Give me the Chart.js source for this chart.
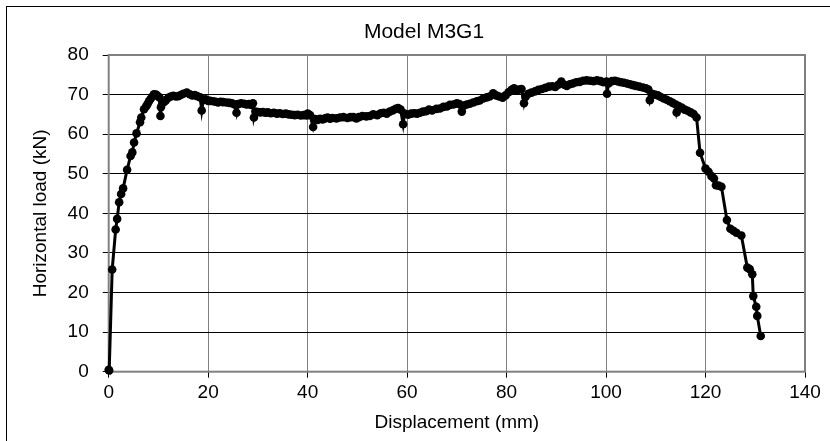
<!DOCTYPE html>
<html>
<head>
<meta charset="utf-8">
<script src="https://cdn.jsdelivr.net/npm/chart.js@4.4.1/dist/chart.umd.min.js"></script>
<style>
html,body{margin:0;padding:0;background:#fff;}
#wrap{width:830px;height:441px;position:relative;}
</style>
</head>
<body>
<div id="wrap"><canvas id="c" width="830" height="441"></canvas></div>
<script>
const chartTitle = "Model M3G1";
const xAxisTitle = "Displacement (mm)";
const yAxisTitle = "Horizontal load (kN)";
const xTickValues = [0, 20, 40, 60, 80, 100, 120, 140];
const yTickValues = [0, 10, 20, 30, 40, 50, 60, 70, 80];

const displacement = [
  0, 0.1, 0.7, 1.4, 1.7, 2.1, 2.5, 2.9, 3.7, 4.4, 4.75, 5.1, 5.6, 6.3, 6.55, 7.1, 7.5, 7.8, 8.1, 8.4, 8.8, 9.1, 9.5, 9.8, 10.2,
  10.4, 10.5, 10.8, 11.2, 11.5, 12.0, 12.5, 13.0, 13.5, 14.0, 14.5, 15.0, 15.7, 16.3, 16.8, 17.3, 17.8, 18.4,
  18.7, 19.0, 19.5, 20.0, 20.4, 21.0, 21.5, 22.0, 22.5, 23.0, 23.7, 24.3, 24.8, 25.3,
  25.7, 26.0, 26.6, 27.2, 27.7, 28.2, 28.7, 29.0, 29.2, 29.5,
  30.0, 30.5, 31.0, 31.5, 32.0, 32.6, 33.2, 33.8, 34.4, 35.0, 35.6, 36.2, 36.8, 37.4, 38.0, 38.6, 39.2, 39.8,
  40.0, 40.5, 41.1, 41.5, 42.0, 42.5, 43.0, 43.5, 44.0, 44.5, 45.0, 45.8, 46.5, 47.2, 48.0, 48.6, 49.2, 49.8,
  50.3, 51.0, 51.8, 52.5, 53.2, 54.0, 54.7, 55.3, 55.9, 56.5, 57.1, 57.7, 58.2, 58.7,
  59.2, 59.5, 60.2, 60.8, 61.4, 62.0, 62.6, 63.2, 63.8, 64.4, 65.0, 65.9, 66.6, 67.3, 68.0, 68.6, 69.3, 70.0, 70.5,
  71.0, 71.4, 72.0, 72.6, 73.3, 74.0, 74.6, 75.3, 76.0, 76.6, 77.3, 77.9, 78.5, 79.2, 79.8, 80.4, 81.0, 81.5, 82.0, 82.5, 83.0,
  83.5, 83.8, 84.4, 85.0, 85.7, 86.4, 87.1, 87.8, 88.5, 89.2, 89.8, 90.4, 91.0, 91.6, 92.1, 92.7, 93.3, 94.0, 94.7,
  95.4, 96.1, 96.8, 97.5, 98.2, 98.9, 99.5, 100.1,
  100.2, 100.5, 101.2, 101.8, 102.4, 103.0, 103.6, 104.2, 104.8, 105.4, 106.0, 106.7, 107.4, 108.0, 108.5,
  108.8, 109.2, 109.8, 110.4, 111.0, 111.6, 112.2, 112.8, 113.4, 114.0,
  114.2, 114.6, 115.2, 115.8, 116.4, 117.0, 117.6, 118.2,
  118.9, 120.0, 120.6, 121.2, 121.7, 122.1, 122.6, 123.2, 124.3, 125.0, 125.6, 126.2, 127.2,
  128.4, 128.9, 129.4, 129.6, 130.2, 130.4, 131.1
];
const horizontalLoad = [
  0.5, 0.3, 25.8, 35.9, 38.6, 42.8, 44.9, 46.3, 51.0, 54.5, 55.4, 57.9, 60.2, 63.0, 64.2, 66.3, 67.0, 67.6, 68.3, 68.9, 69.5, 70.1, 70.0, 69.7, 69.3,
  64.6, 66.8, 67.8, 68.2, 68.6, 69.2, 69.5, 69.7, 69.5, 69.6, 69.9, 70.2, 70.5, 70.1, 69.8, 69.9, 69.6, 69.3,
  66.0, 68.6, 68.8, 68.4, 68.4, 68.3, 68.2, 68.0, 68.2, 68.1, 68.0, 67.9, 67.8, 67.5,
  65.4, 67.6, 67.8, 67.7, 67.5, 67.6, 67.4, 67.8, 64.2, 65.7,
  65.6, 65.5, 65.6, 65.4, 65.5, 65.3, 65.4, 65.2, 65.3, 65.1, 65.2, 65.0, 64.9, 64.8, 64.9, 64.7, 64.8, 64.7,
  65.2, 64.8, 61.8, 63.8, 63.6, 63.9, 63.7, 64.0, 64.2, 63.9, 64.1, 64.0, 64.2, 64.3, 64.1, 64.3, 64.3, 64.0,
  64.3, 64.6, 64.5, 64.6, 65.0, 64.8, 65.3, 65.4, 65.2, 65.7, 66.0, 66.4, 66.6, 66.2,
  62.5, 65.2, 64.9, 65.2, 65.3, 65.2, 65.4, 65.7, 65.8, 66.2, 66.0, 66.4, 66.5, 66.9, 67.0, 67.4, 67.5, 67.8, 67.6,
  65.7, 67.2, 67.5, 67.7, 68.0, 68.3, 68.5, 69.0, 69.3, 69.5, 70.3, 69.8, 69.5, 69.2, 69.8, 70.6, 71.2, 71.6, 71.0, 71.3, 71.4,
  67.8, 69.4, 70.2, 70.5, 70.8, 71.2, 71.4, 71.7, 72.0, 72.1, 71.9, 72.5, 73.3, 72.5, 72.2, 72.6, 72.8, 73.1, 73.2,
  73.5, 73.6, 73.5, 73.4, 73.6, 73.4, 73.1, 73.3,
  70.2, 72.8, 73.4, 73.5, 73.3, 73.1, 73.0, 72.8, 72.6, 72.4, 72.2, 72.0, 71.8, 71.6, 71.3,
  68.6, 70.2, 70.0, 69.8, 69.4, 69.0, 68.7, 68.3, 67.9, 67.5,
  65.5, 67.1, 66.7, 66.2, 65.9, 65.5, 65.1, 64.2,
  55.3, 51.3, 50.5, 49.4, 48.8, 47.1, 47.0, 46.7, 38.3, 36.1, 35.6, 35.1, 34.4,
  26.3, 25.9, 24.6, 19.1, 16.4, 14.1, 9.0
];

const points = displacement.map((d, i) => ({x: d, y: horizontalLoad[i]}));
const FONT = "'Liberation Sans', Arial, sans-serif";

const decor = {
  id: 'decor',
  beforeDraw(chart) {
    const ctx = chart.ctx;
    ctx.save();
    ctx.fillStyle = '#fff';
    ctx.fillRect(0, 0, chart.width, chart.height);
    ctx.strokeStyle = '#000';
    ctx.lineWidth = 1;
    ctx.strokeRect(6.5, 6.5, 1000, 1000);
    ctx.restore();
  },
  beforeDatasetsDraw(chart) {
    const ctx = chart.ctx, a = chart.chartArea;
    ctx.save();
    ctx.strokeStyle = '#808080';
    ctx.lineWidth = 2;
    ctx.strokeRect(a.left, a.top, a.right - a.left, a.bottom - a.top);
    ctx.restore();
  },
  afterDraw(chart) {
    const ctx = chart.ctx;
    ctx.save();
    ctx.fillStyle = '#000';
    ctx.font = "21px " + FONT;
    ctx.textAlign = 'center';
    ctx.textBaseline = 'middle';
    ctx.fillText(chartTitle, 424, 32);
    ctx.restore();
  }
};

new Chart(document.getElementById('c'), {
  type: 'scatter',
  data: {
    datasets: [{
      data: points,
      showLine: true,
      clip: false,
      borderColor: '#000',
      backgroundColor: '#000',
      borderWidth: 3,
      pointRadius: 4.3,
      pointHoverRadius: 4.3,
      pointBorderWidth: 0,
      tension: 0
    }]
  },
  options: {
    responsive: false,
    animation: false,
    events: [],
    layout: {padding: {top: 55, right: 25, left: 0, bottom: 0}},
    plugins: {legend: {display: false}, tooltip: {enabled: false}},
    scales: {
      x: {
        type: 'linear',
        min: 0, max: 140,
        afterFit(s) { s.height = 69.3; },
        afterBuildTicks(s) { s.ticks = xTickValues.map(v => ({value: v})); },
        grid: {color: '#808080', lineWidth: 1, tickLength: 6, tickColor: '#000', drawTicks: true},
        border: {display: false},
        ticks: {color: '#000', font: {family: FONT, size: 19}, padding: 4, maxRotation: 0},
        title: {display: true, text: xAxisTitle, color: '#000', font: {family: FONT, size: 19}, padding: {top: 0, bottom: 7}}
      },
      y: {
        type: 'linear',
        min: 0, max: 80,
        afterFit(s) { s.width = 108.7; },
        afterBuildTicks(s) { s.ticks = yTickValues.map(v => ({value: v})); },
        grid: {color: '#000', lineWidth: 1, tickLength: 6, tickColor: '#000', drawTicks: true},
        border: {display: false},
        ticks: {color: '#000', font: {family: FONT, size: 19}, padding: 14},
        title: {display: true, text: yAxisTitle, color: '#000', font: {family: FONT, size: 19}, padding: {top: 29, bottom: 0}}
      }
    }
  },
  plugins: [decor]
});
</script>
</body>
</html>
